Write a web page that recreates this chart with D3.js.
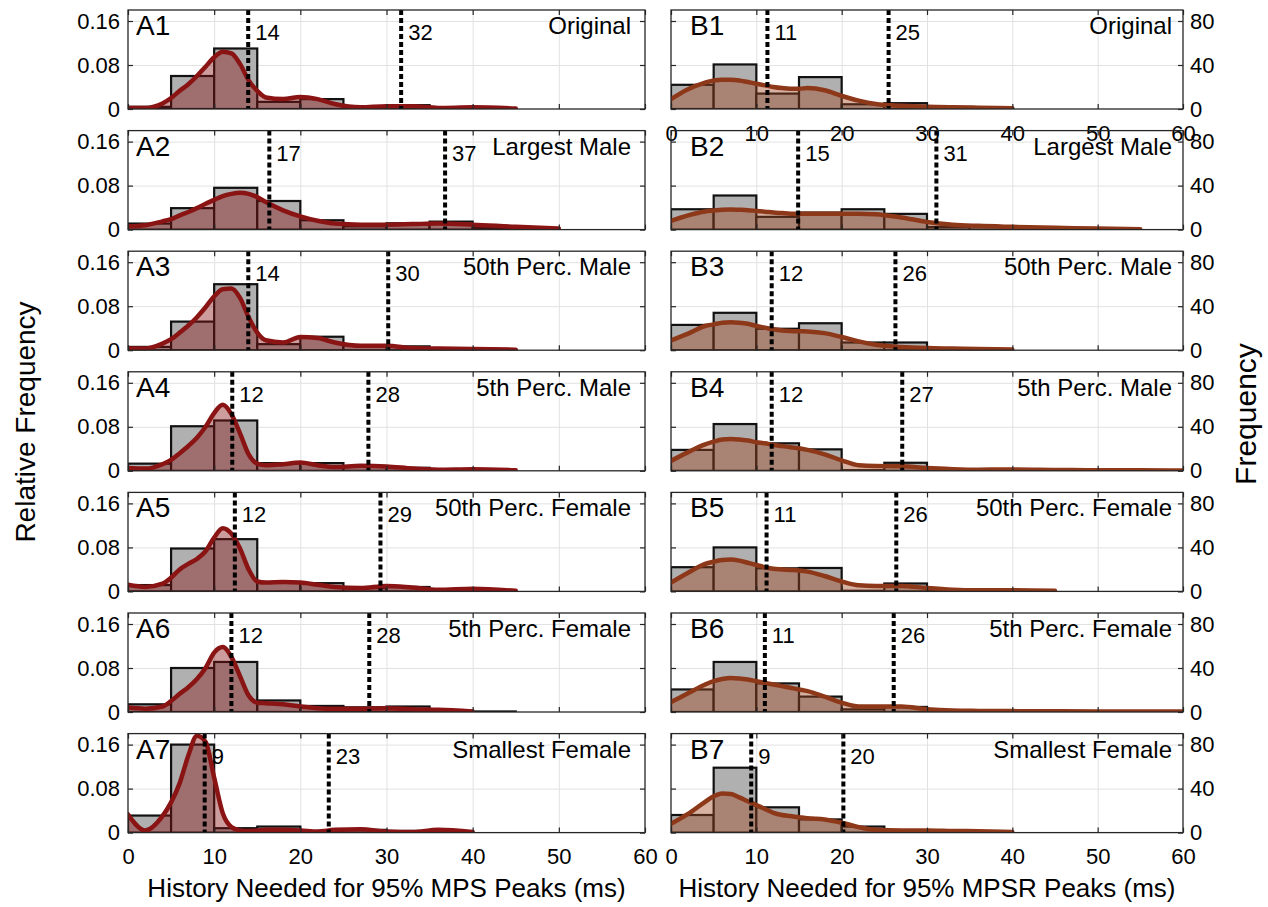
<!DOCTYPE html>
<html>
<head>
<meta charset="utf-8">
<script src="https://cdn.jsdelivr.net/npm/d3@7"></script>
<style>
  body { margin: 0; background: #fff; }
  svg { display: block; font-family: "Liberation Sans", Arial, sans-serif; }
</style>
</head>
<body>
<div id="chart"></div>
<script>
var binEdges = [0, 5, 10, 15, 20, 25, 30, 35, 40, 45, 50, 55, 60];
var kdeX = [0, 2, 4, 5, 6, 7, 8, 9, 10, 11, 12, 13, 14, 15, 16, 18, 20, 22, 24, 27, 30, 33, 36, 40, 45, 50, 55, 60];
var xTicks = [0, 10, 20, 30, 40, 50, 60];
var relTicks = [0, 0.08, 0.16];
var freqTicks = [0, 40, 80];
var caseNames = ['Original', 'Largest Male', '50th Perc. Male', '5th Perc. Male', '50th Perc. Female', '5th Perc. Female', 'Smallest Female'];

// A: MPS, relative frequency
var histA1 = [0.004, 0.060, 0.110, 0.013, 0.018, 0.003, 0.007, 0.001, 0.001, 0, 0, 0];
var histA2 = [0.011, 0.039, 0.076, 0.052, 0.017, 0.006, 0.0115, 0.0145, 0.004, 0.001, 0, 0];
var histA3 = [0.006, 0.052, 0.120, 0.011, 0.0245, 0.009, 0.007, 0.001, 0.001, 0, 0, 0];
var histA4 = [0.013, 0.081, 0.0915, 0.014, 0.014, 0.0085, 0.0055, 0, 0, 0, 0, 0];
var histA5 = [0.0115, 0.078, 0.095, 0.0165, 0.015, 0.006, 0.008, 0.001, 0, 0, 0, 0];
var histA6 = [0.014, 0.080, 0.091, 0.021, 0.011, 0.0085, 0.010, 0.0025, 0.001, 0, 0, 0];
var histA7 = [0.031, 0.160, 0.008, 0.011, 0.002, 0.005, 0.003, 0, 0, 0, 0, 0];

var kdeA1 = [0.002, 0.002, 0.010, 0.020, 0.033, 0.045, 0.060, 0.077, 0.094, 0.104, 0.101, 0.082, 0.052, 0.033, 0.021, 0.018, 0.022, 0.018, 0.009, 0.003, 0.005, 0.005, 0.002, 0.003, 0.001, null, null, null];
var kdeA2 = [0.006, 0.008, 0.015, 0.019, 0.026, 0.032, 0.039, 0.047, 0.054, 0.061, 0.065, 0.067, 0.065, 0.059, 0.050, 0.035, 0.024, 0.016, 0.011, 0.009, 0.009, 0.010, 0.011, 0.009, 0.005, 0.002, null, null];
var kdeA3 = [0.003, 0.003, 0.012, 0.020, 0.032, 0.045, 0.060, 0.078, 0.098, 0.111, 0.112, 0.095, 0.060, 0.032, 0.018, 0.014, 0.024, 0.022, 0.014, 0.008, 0.008, 0.004, 0.003, 0.002, 0.001, null, null, null];
var kdeA4 = [0.005, 0.004, 0.012, 0.020, 0.032, 0.045, 0.060, 0.080, 0.105, 0.120, 0.103, 0.068, 0.030, 0.013, 0.010, 0.012, 0.015, 0.010, 0.007, 0.009, 0.008, 0.004, 0.002, 0.003, 0.001, null, null, null];
var kdeA5 = [0.012, 0.008, 0.014, 0.025, 0.040, 0.050, 0.059, 0.073, 0.098, 0.115, 0.105, 0.078, 0.040, 0.018, 0.016, 0.017, 0.016, 0.012, 0.008, 0.006, 0.010, 0.007, 0.003, 0.005, 0.001, null, null, null];
var kdeA6 = [0.008, 0.006, 0.010, 0.020, 0.033, 0.045, 0.060, 0.080, 0.108, 0.118, 0.100, 0.065, 0.030, 0.017, 0.016, 0.014, 0.010, 0.007, 0.006, 0.006, 0.007, 0.005, 0.004, 0.001, null, null, null, null];
var kdeA7 = [0.033, 0.004, 0.030, 0.055, 0.090, 0.140, 0.176, 0.165, 0.100, 0.035, 0.010, 0.004, 0.003, 0.004, 0.005, 0.005, 0.004, 0.002, 0.005, 0.006, 0.002, 0.001, 0.005, 0.001, null, null, null, null];

var cutA = [[13.95, 31.7], [16.4, 36.8], [13.96, 30.2], [12.1, 27.9], [12.4, 29.3], [12.0, 28.0], [8.9, 23.3]];
var cutLabelA = [['14', '32'], ['17', '37'], ['14', '30'], ['12', '28'], ['12', '29'], ['12', '28'], ['9', '23']];

// B: MPSR, frequency
var histB1 = [22, 40.5, 14, 29, 4.3, 5.3, 1, 0, 0, 0, 0, 0];
var histB2 = [18.5, 31, 11.6, 15.5, 18.5, 14.3, 2.4, 2.7, 1.2, 0.6, 0.3, 0];
var histB3 = [23, 34, 19.5, 24.5, 7, 7, 0.6, 0.3, 0, 0, 0, 0];
var histB4 = [19, 42.5, 25, 19.5, 0.6, 7.3, 0.6, 0.3, 0.5, 0.5, 0.5, 0.5];
var histB5 = [22, 40, 21, 21.3, 0.6, 7.2, 1, 0, 0, 0, 0, 0];
var histB6 = [20.5, 45.5, 26, 14, 2.4, 4.6, 1, 1.5, 0.5, 0.5, 0.5, 0.5];
var histB7 = [16, 59, 23, 12, 5.5, 1, 0.5, 0.5, 0, 0, 0, 0];

var kdeB1 = [9, 18, 24, 26, 26.5, 26.5, 26, 24.5, 23, 21.5, 20, 19, 18.5, 18.5, 19, 17, 12, 7.6, 4.6, 3, 2, 1.5, 1.2, 0.6, null, null, null, null];
var kdeB2 = [8, 13, 16.5, 17.3, 18, 18.2, 18, 17.7, 17, 16.3, 15.5, 15, 14.5, 14.5, 14.5, 14.5, 14.5, 14.5, 14, 11, 7, 4.5, 3.4, 2.5, 1.6, 1, 0.3, null];
var kdeB3 = [9, 15, 22, 23.5, 25, 25.5, 25, 24, 22, 20.5, 19, 18, 17.5, 17.2, 17, 15.5, 12, 8, 5, 3, 2, 1.5, 1, 0.6, null, null, null, null];
var kdeB4 = [9, 17, 24, 26.5, 28.5, 29, 28.5, 27.5, 26, 25, 23.5, 22.5, 21.5, 20.5, 19, 15, 9.5, 5, 4.3, 4.2, 2.5, 1.5, 1, 1.2, 0.8, 0.5, 0.5, 0.3];
var kdeB5 = [8, 17, 25, 27, 28.5, 29, 28, 26, 24, 22, 20.5, 20, 19.5, 19, 18, 14, 9, 5.5, 5, 5, 3, 1.5, 1, 1, 0.5, null, null, null];
var kdeB6 = [9, 17, 25, 28, 30, 31, 30.5, 29.5, 28, 26.5, 25, 23.5, 22, 20.5, 19, 14, 8.5, 5, 5, 5, 2.5, 1.3, 1, 0.8, 0.6, 0.5, 0.4, 0.4];
var kdeB7 = [8, 17, 28, 33, 35.5, 35, 32, 28.5, 25, 21.5, 18, 16, 15, 14, 13, 12, 9, 5, 2.5, 2, 2, 1.5, 1.2, 0.5, null, null, null, null];

var cutB = [[11.3, 25.5], [14.9, 31.1], [11.8, 26.3], [11.8, 27.1], [11.2, 26.4], [11.0, 26.1], [9.4, 20.2]];
var cutLabelB = [['11', '25'], ['15', '31'], ['12', '26'], ['12', '27'], ['11', '26'], ['11', '26'], ['9', '20']];

var histA = [histA1, histA2, histA3, histA4, histA5, histA6, histA7];
var kdeA = [kdeA1, kdeA2, kdeA3, kdeA4, kdeA5, kdeA6, kdeA7];
var histB = [histB1, histB2, histB3, histB4, histB5, histB6, histB7];
var kdeB = [kdeB1, kdeB2, kdeB3, kdeB4, kdeB5, kdeB6, kdeB7];

var W = 1268, H = 907;
var rowTop0 = 10, rowStep = 120.6, rowH = 99;
var xA = d3.scaleLinear().domain([0, 60]).range([128, 645]);
var xB = d3.scaleLinear().domain([0, 60]).range([671, 1183]);

var svg = d3.select('#chart').append('svg')
  .attr('width', W)
  .attr('height', H)
  .attr('viewBox', '0 0 ' + W + ' ' + H);

function styleTicks(g) {
  g.select('.domain').remove();
  g.selectAll('line').attr('stroke', '#262626').attr('stroke-width', 1.2);
  g.selectAll('text').attr('font-size', 22).attr('fill', '#000').attr('font-family', '"Liberation Sans", Arial, sans-serif');
}

function drawPanel(p) {
  var top = p.top;
  var base = top + rowH;
  var x = p.x;
  var w = x(60) - x(0);
  var y = d3.scaleLinear().domain([0, p.ymax]).range([base, top]);
  var g = svg.append('g');

  // grid
  g.append('g')
    .attr('transform', 'translate(0,' + base + ')')
    .call(d3.axisBottom(x).tickValues(xTicks.slice(1, -1)).tickSize(-rowH).tickFormat(''))
    .call(function (s) { s.select('.domain').remove(); s.selectAll('line').attr('stroke', '#e2e2e2'); });
  g.append('g')
    .attr('transform', 'translate(' + x(0) + ',0)')
    .call(d3.axisLeft(y).tickValues(p.yTicks.slice(1)).tickSize(-w).tickFormat(''))
    .call(function (s) { s.select('.domain').remove(); s.selectAll('line').attr('stroke', '#e2e2e2'); });

  g.append('clipPath').attr('id', 'clip-' + p.id)
    .append('rect').attr('x', x(0)).attr('y', top).attr('width', w).attr('height', rowH);
  var plot = g.append('g').attr('clip-path', 'url(#clip-' + p.id + ')');

  var bins = p.hist.map(function (v, i) { return { x0: binEdges[i], x1: binEdges[i + 1], v: v }; })
    .filter(function (d) { return d.v > 0; });
  plot.selectAll('rect.bar')
    .data(bins)
    .join('rect')
    .attr('class', 'bar')
    .attr('x', function (d) { return x(d.x0); })
    .attr('width', function (d) { return x(d.x1) - x(d.x0); })
    .attr('y', function (d) { return y(d.v); })
    .attr('height', function (d) { return base - y(d.v); })
    .attr('fill', '#b0b0b0')
    .attr('stroke', '#111')
    .attr('stroke-width', 2.2);

  var pts = kdeX.map(function (xv, i) { return { x: xv, v: p.kde[i] }; });
  var area = d3.area()
    .defined(function (d) { return d.v != null; })
    .x(function (d) { return x(d.x); })
    .y0(base)
    .y1(function (d) { return y(d.v); })
    .curve(d3.curveMonotoneX);
  var line = d3.line()
    .defined(function (d) { return d.v != null; })
    .x(function (d) { return x(d.x); })
    .y(function (d) { return y(d.v); })
    .curve(d3.curveMonotoneX);
  plot.append('path').datum(pts).attr('d', area).attr('fill', p.fill);
  plot.append('path').datum(pts).attr('d', line)
    .attr('fill', 'none').attr('stroke', p.stroke).attr('stroke-width', 4.5)
    .attr('stroke-linejoin', 'round').attr('stroke-linecap', 'round');

  // threshold lines
  p.cuts.forEach(function (c, i) {
    g.append('line')
      .attr('x1', x(c)).attr('x2', x(c))
      .attr('y1', top).attr('y2', base)
      .attr('stroke', '#000').attr('stroke-width', 4)
      .attr('stroke-dasharray', '5,3');
    g.append('text')
      .attr('x', x(c) + 7).attr('y', top + 30)
      .attr('font-size', 22).attr('fill', '#000')
      .text(p.cutLabels[i]);
  });

  // box + inside ticks
  g.append('rect').attr('x', x(0)).attr('y', top).attr('width', w).attr('height', rowH)
    .attr('fill', 'none').attr('stroke', '#262626').attr('stroke-width', 1.3);

  var bottomAxis = d3.axisBottom(x).tickValues(xTicks).tickSize(-5).tickPadding(16);
  if (!p.xLabels) bottomAxis.tickFormat('');
  g.append('g').attr('transform', 'translate(0,' + base + ')').call(bottomAxis).call(styleTicks);
  g.append('g').attr('transform', 'translate(0,' + top + ')')
    .call(d3.axisTop(x).tickValues(xTicks).tickSize(-5).tickFormat('')).call(styleTicks);

  var leftAxis = d3.axisLeft(y).tickValues(p.yTicks).tickSize(-5).tickPadding(8);
  var rightAxis = d3.axisRight(y).tickValues(p.yTicks).tickSize(-5).tickPadding(7);
  if (p.side === 'left') {
    leftAxis.tickFormat(function (d) { return d === 0 ? '0' : d.toFixed(2); });
    rightAxis.tickFormat('');
  } else {
    leftAxis.tickFormat('');
    rightAxis.tickFormat(d3.format('d'));
  }
  g.append('g').attr('transform', 'translate(' + x(0) + ',0)').call(leftAxis).call(styleTicks);
  g.append('g').attr('transform', 'translate(' + x(60) + ',0)').call(rightAxis).call(styleTicks);

  g.append('text')
    .attr('x', x(0) + p.labelInset).attr('y', top + 25)
    .attr('font-size', 28).attr('fill', '#000')
    .text(p.id);
  g.append('text')
    .attr('x', x(60) - p.nameInset).attr('y', top + 24)
    .attr('text-anchor', 'end')
    .attr('font-size', 24).attr('fill', '#000')
    .text(p.name);
}

caseNames.forEach(function (name, i) {
  var top = rowTop0 + i * rowStep;
  drawPanel({
    id: 'A' + (i + 1), top: top, x: xA, ymax: 0.18, yTicks: relTicks, side: 'left',
    hist: histA[i], kde: kdeA[i], cuts: cutA[i], cutLabels: cutLabelA[i],
    fill: 'rgba(135,18,18,0.42)', stroke: '#8a1414',
    xLabels: i === 6, labelInset: 8, nameInset: 14, name: name
  });
  drawPanel({
    id: 'B' + (i + 1), top: top, x: xB, ymax: 90, yTicks: freqTicks, side: 'right',
    hist: histB[i], kde: kdeB[i], cuts: cutB[i], cutLabels: cutLabelB[i],
    fill: 'rgba(160,68,32,0.42)', stroke: '#8e381a',
    xLabels: i === 0 || i === 6, labelInset: 19, nameInset: 11, name: name
  });
});

// axis titles
svg.append('text')
  .attr('transform', 'translate(25,422) rotate(-90)')
  .attr('text-anchor', 'middle').attr('dominant-baseline', 'central')
  .attr('font-size', 28).attr('fill', '#000')
  .text('Relative Frequency');
svg.append('text')
  .attr('transform', 'translate(1245,414) rotate(-90)')
  .attr('text-anchor', 'middle').attr('dominant-baseline', 'central')
  .attr('font-size', 30).attr('fill', '#000')
  .text('Frequency');
svg.append('text')
  .attr('x', (xA(0) + xA(60)) / 2).attr('y', 897)
  .attr('text-anchor', 'middle')
  .attr('font-size', 26).attr('fill', '#000')
  .text('History Needed for 95% MPS Peaks (ms)');
svg.append('text')
  .attr('x', (xB(0) + xB(60)) / 2).attr('y', 897)
  .attr('text-anchor', 'middle')
  .attr('font-size', 26).attr('fill', '#000')
  .text('History Needed for 95% MPSR Peaks (ms)');
</script>
</body>
</html>
